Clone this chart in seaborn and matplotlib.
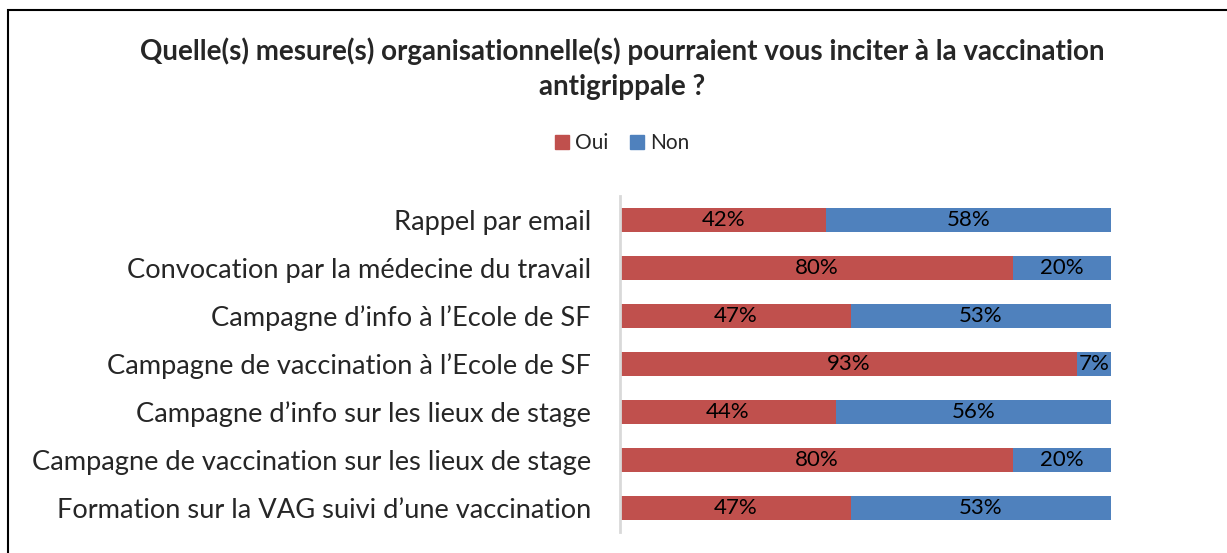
import pandas as pd
import matplotlib.pyplot as plt
import seaborn as sns
from matplotlib.patches import Patch, Rectangle

# data
categories = [
    "Rappel par email",
    "Convocation par la médecine du travail",
    "Campagne d\u2019info à l\u2019Ecole de SF",
    "Campagne de vaccination à l\u2019Ecole de SF",
    "Campagne d\u2019info sur les lieux de stage",
    "Campagne de vaccination sur les lieux de stage",
    "Formation sur la VAG suivi d\u2019une vaccination",
]
oui = [42, 80, 47, 93, 44, 80, 47]
non = [58, 20, 53, 7, 56, 20, 53]

red = "#C0504D"
blue = "#4F81BD"

df = pd.DataFrame({"mesure": categories, "oui": oui, "non": non})
df["total"] = df["oui"] + df["non"]

sns.set_style("white")
plt.rcParams["font.family"] = ["Lato", "DejaVu Sans"]

fig = plt.figure(figsize=(12.27, 5.53), dpi=100)
ax = fig.add_axes([0.5053, 0.038, 0.4002, 0.6076])

# stacked: total (Non) drawn first, Oui on top
sns.barplot(data=df, x="total", y="mesure", color=blue, width=0.52,
            saturation=1, ax=ax, orient="h")
sns.barplot(data=df, x="oui", y="mesure", color=red, width=0.52,
            saturation=1, ax=ax, orient="h")

bars_non = ax.containers[0]
bars_oui = ax.containers[1]
for b in list(bars_non) + list(bars_oui):
    b.set_edgecolor("none")
ax.bar_label(bars_oui, labels=[f"{v}%" for v in oui], label_type="center",
             fontsize=16, color="black")
# label Non in the middle of its own segment
for b, o, n in zip(bars_non, oui, non):
    y = b.get_y() + b.get_height() / 2
    ax.text(o + n / 2, y, f"{n}%", ha="center", va="center",
            fontsize=16, color="black")

ax.set_xlim(0, 100)
ax.set_ylim(len(categories) - 0.5, -0.5)
ax.set_xlabel("")
ax.set_ylabel("")
ax.set_xticks([])
ax.tick_params(axis="y", length=0, pad=21, labelsize=19.6)
for s in ["top", "right", "bottom"]:
    ax.spines[s].set_visible(False)
ax.spines["left"].set_color("#D9D9D9")
ax.spines["left"].set_linewidth(2)

fig.text(0.507, 0.908, "Quelle(s) mesure(s) organisationnelle(s) pourraient vous inciter à la vaccination",
         ha="center", va="center", fontsize=20, fontweight="bold")
fig.text(0.507, 0.842, "antigrippale ?", ha="center", va="center",
         fontsize=20, fontweight="bold")

handles = [Patch(color=red, label="Oui"), Patch(color=blue, label="Non")]
fig.legend(handles=handles, loc="center", bbox_to_anchor=(0.507, 0.741), ncol=2,
           frameon=False, fontsize=15, handlelength=0.7, handleheight=0.7,
           handletextpad=0.3, columnspacing=1.0)

# outer frame like the exported chart
fig.patches.append(Rectangle((8 / 1227, -0.05), 1.1, 1 - 10 / 553 + 0.05,
                             transform=fig.transFigure, fill=False,
                             edgecolor="black", linewidth=1.5))

fig.savefig("out.png", dpi=100)
